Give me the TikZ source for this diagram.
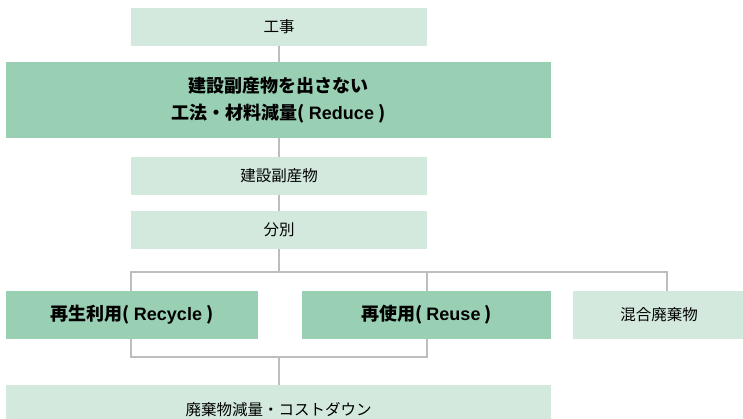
\documentclass[tikz,border=0pt]{standalone}
\usepackage{fontspec}
\usetikzlibrary{backgrounds}
\setmainfont{Liberation Sans}
\newfontfamily\jp{Noto Sans CJK JP}
\definecolor{lightg}{HTML}{D3E9DD}
\definecolor{darkg}{HTML}{99D0B4}
\definecolor{linegray}{HTML}{BDBDBD}
\begin{document}
\begin{tikzpicture}[x=1pt,y=-1pt,
  lbox/.style={fill=lightg,draw=none,inner sep=0pt,minimum height=38pt,
    font=\jp\fontsize{15.5}{18}\selectfont,text=black},
  dbox/.style={fill=darkg,draw=none,inner sep=0pt,
    font=\jp\bfseries\fontsize{18}{27}\selectfont,align=center},
  conn/.style={draw=linegray,line width=2.6pt}]
\useasboundingbox (0,0) rectangle (743,419);
\clip (0,0) rectangle (743,419);
\coordinate (split) at (279,272);
\coordinate (splitL) at (131,272);
\coordinate (splitM) at (427,272);
\coordinate (splitR) at (667,272);
\coordinate (joinL) at (131,357);
\coordinate (joinM) at (427,357);
\coordinate (join) at (279,357);
% boxes
\node[lbox,minimum width=296pt] (koji) at (279,27) {工事};
\node[dbox,minimum width=545pt,minimum height=76pt] (reduce) at (278.5,100)
  {建設副産物を出さない\\工法・材料減量( {\fontspec{Liberation Sans}\bfseries Reduce} )};
\node[lbox,minimum width=296pt] (fuku) at (279,176) {建設副産物};
\node[lbox,minimum width=296pt] (bunbetsu) at (279,230) {分別};
\node[dbox,minimum width=252pt,minimum height=48pt] (recycle) at (132,315)
  {再生利用( {\fontspec{Liberation Sans}\bfseries Recycle} )};
\node[dbox,minimum width=249pt,minimum height=48pt] (reuse) at (426.5,315)
  {再使用( {\fontspec{Liberation Sans}\bfseries Reuse} )};
\node[lbox,minimum width=172pt,minimum height=48pt] (mixed) at (659,315) {混合廃棄物};
\node[lbox,minimum width=545pt,minimum height=50pt] (cost) at (278.5,410) {廃棄物減量・コストダウン};
% connectors behind the boxes
\begin{pgfonlayer}{background}
\draw[conn] (koji.south -| split) -- (reduce.north -| split);
\draw[conn] (reduce.south -| split) -- (fuku.north -| split);
\draw[conn] (fuku.south) -- (bunbetsu.north);
\draw[conn] (bunbetsu.south) -- (split);
\draw[conn] (recycle.north -| splitL) -- (splitL) -- (splitR) -- (mixed.north -| splitR);
\draw[conn] (splitM) -- (reuse.north -| splitM);
\draw[conn] (recycle.south -| joinL) -- (joinL) -- (joinM) -- (reuse.south -| joinM);
\draw[conn] (join) -- (cost.north -| join);
\end{pgfonlayer}
\end{tikzpicture}
\end{document}
